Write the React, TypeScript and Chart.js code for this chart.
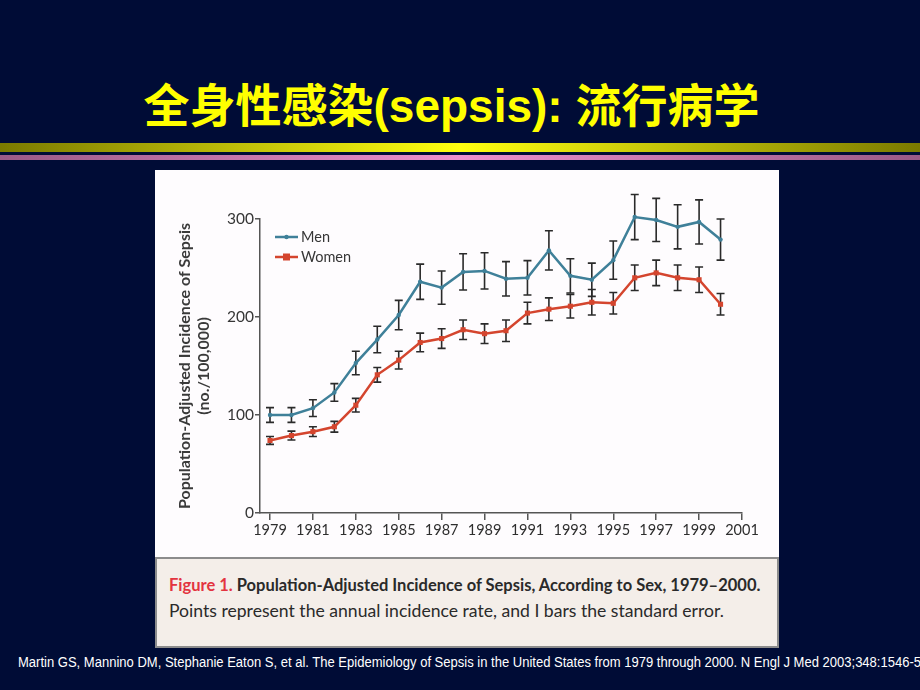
import React, { useEffect, useRef } from "react";
import { Chart, registerables } from "chart.js";

Chart.register(...registerables);

// ---- data ----
const years = [1979, 1980, 1981, 1982, 1983, 1984, 1985, 1986, 1987, 1988, 1989, 1990, 1991, 1992, 1993, 1994, 1995, 1996, 1997, 1998, 1999, 2000];
const men = [100, 100, 107, 123, 153, 177, 202, 236, 230, 246, 247, 239, 240, 268, 242, 238, 258, 302, 299, 292, 297, 279];
const menSE = [7.5, 7.5, 8.5, 9, 12, 13.5, 15, 18, 17, 18.5, 18.5, 17.5, 17.5, 20, 17.5, 17, 19.5, 23, 22, 22.5, 22.5, 21];
const women = [74, 79, 83, 88, 110, 141, 156, 174, 178, 187, 183, 186, 204, 208, 211, 215, 214, 240, 245, 240, 238, 213];
const womenSE = [4, 4.5, 5, 5.5, 7, 7.5, 9, 9.5, 10, 10, 10, 11, 11, 11.5, 12, 13, 11, 13, 13, 13, 13, 11];
const xTickValues = [1979, 1981, 1983, 1985, 1987, 1989, 1991, 1993, 1995, 1997, 1999, 2001];
const yTickValues = [0, 100, 200, 300];
const seriesLabels = ["Men", "Women"];
const yTitleLines = ["Population-Adjusted Incidence of Sepsis", "(no./100,000)"];

const MEN_COLOR = "#3f8099";
const WOMEN_COLOR = "#d4452e";
const TEXT_COLOR = "#363636";
const AXIS_COLOR = "#555555";

const errorBarPlugin = {
  id: "errorBars",
  beforeDatasetsDraw(chart: any) {
    const ctx = chart.ctx;
    const ys = chart.scales.y;
    ctx.save();
    ctx.strokeStyle = "#2a2a2a";
    ctx.lineWidth = 1.6;
    chart.data.datasets.forEach((ds: any, i: number) => {
      const meta = chart.getDatasetMeta(i);
      meta.data.forEach((pt: any, j: number) => {
        const v = ds.data[j].y;
        const se = ds.errors[j];
        const x = pt.x;
        const y1 = ys.getPixelForValue(v + se);
        const y2 = ys.getPixelForValue(v - se);
        ctx.beginPath();
        ctx.moveTo(x, y1);
        ctx.lineTo(x, y2);
        ctx.moveTo(x - 4, y1);
        ctx.lineTo(x + 4, y1);
        ctx.moveTo(x - 4, y2);
        ctx.lineTo(x + 4, y2);
        ctx.stroke();
      });
    });
    ctx.restore();
  },
};

const legendPlugin = {
  id: "insideLegend",
  afterDraw(chart: any) {
    const ctx = chart.ctx;
    const { left, top } = chart.chartArea;
    ctx.save();
    chart.data.datasets.forEach((ds: any, i: number) => {
      const y = top + 18 + i * 20;
      const x0 = left + 15;
      const x1 = left + 38;
      ctx.strokeStyle = ds.borderColor;
      ctx.lineWidth = 2.5;
      ctx.beginPath();
      ctx.moveTo(x0, y);
      ctx.lineTo(x1, y);
      ctx.stroke();
      ctx.fillStyle = ds.borderColor;
      const cx = (x0 + x1) / 2;
      if (ds.pointStyle === "rect") {
        ctx.fillRect(cx - 3.5, y - 3.5, 7, 7);
      } else {
        ctx.beginPath();
        ctx.arc(cx, y, 2.2, 0, Math.PI * 2);
        ctx.fill();
      }
      ctx.fillStyle = TEXT_COLOR;
      ctx.font = "14.5px Lato";
      ctx.textBaseline = "middle";
      ctx.textAlign = "left";
      ctx.fillText(ds.label, x1 + 3, y);
    });
    ctx.restore();
  },
};

function SepsisChart() {
  const ref = useRef<HTMLCanvasElement | null>(null);
  useEffect(() => {
    if (!ref.current) return;
    const chart = new Chart(ref.current, {
      type: "line",
      data: {
        datasets: [
          {
            label: seriesLabels[0],
            data: years.map((x, i) => ({ x, y: men[i] })),
            errors: menSE,
            borderColor: MEN_COLOR,
            backgroundColor: MEN_COLOR,
            borderWidth: 2.5,
            pointStyle: "circle",
            pointRadius: 2.2,
            pointBorderWidth: 0,
            pointBackgroundColor: MEN_COLOR,
            clip: false,
          } as any,
          {
            label: seriesLabels[1],
            data: years.map((x, i) => ({ x, y: women[i] })),
            errors: womenSE,
            borderColor: WOMEN_COLOR,
            backgroundColor: WOMEN_COLOR,
            borderWidth: 2.5,
            pointStyle: "rect",
            pointRadius: 3.6,
            pointBorderWidth: 0,
            pointBackgroundColor: WOMEN_COLOR,
            clip: false,
          } as any,
        ],
      },
      options: {
        responsive: false,
        animation: false,
        layout: { padding: { top: 49, right: 37, left: 0, bottom: 14 } },
        plugins: { legend: { display: false }, tooltip: { enabled: false } },
        scales: {
          x: {
            type: "linear",
            min: 1978.534,
            max: 2001,
            afterBuildTicks: (s: any) => {
              s.ticks = xTickValues.map((v) => ({ value: v }));
            },
            afterFit: (s: any) => {
              s.height = 30;
            },
            grid: { display: true, drawOnChartArea: false, drawTicks: true, tickLength: 7, color: AXIS_COLOR, lineWidth: 1.5 },
            border: { display: true, color: AXIS_COLOR, width: 1.5 },
            ticks: {
              font: { family: "Lato", size: 14.5 },
              color: "#2e2e2e",
              padding: 2,
              maxRotation: 0,
              autoSkip: false,
              callback: (v: any) => String(v),
            },
          },
          y: {
            type: "linear",
            min: 0,
            max: 300,
            afterBuildTicks: (s: any) => {
              s.ticks = yTickValues.map((v) => ({ value: v }));
            },
            afterFit: (s: any) => {
              s.width = 105;
            },
            grid: { display: true, drawOnChartArea: false, drawTicks: true, tickLength: 5, color: AXIS_COLOR, lineWidth: 1.5 },
            border: { display: true, color: AXIS_COLOR, width: 1.5 },
            ticks: {
              font: { family: "Lato", size: 15.5 },
              color: TEXT_COLOR,
              padding: 1,
              callback: (v: any) => String(v),
            },
            title: {
              display: true,
              text: yTitleLines,
              font: { family: "Lato", size: 16, weight: "bold", lineHeight: 1.15 },
              color: "#3a3a3a",
              padding: { top: 21, bottom: 0 },
            },
          },
        },
      },
      plugins: [errorBarPlugin, legendPlugin],
    } as any);
    return () => chart.destroy();
  }, []);
  return <canvas ref={ref} width={624} height={387} style={{ position: "absolute", left: 0, top: 0 }} />;
}

export default function App() {
  return (
    <div
      style={{
        position: "fixed",
        left: 0,
        top: 0,
        width: 920,
        height: 690,
        overflow: "hidden",
        background: "#000c36",
        fontFamily: "'Liberation Sans', Arial, sans-serif",
      }}
    >
      <div
        style={{
          position: "absolute",
          left: 0,
          top: 80,
          width: 903,
          textAlign: "center",
          fontSize: 46,
          lineHeight: "52px",
          fontWeight: "bold",
          color: "#ffff00",
          fontFamily: "'Liberation Sans', 'Noto Sans CJK SC', sans-serif",
          whiteSpace: "nowrap",
        }}
      >
        全身性感染(sepsis): 流行病学
      </div>
      <div
        style={{
          position: "absolute",
          left: 0,
          top: 143,
          width: 920,
          height: 9,
          background: "linear-gradient(to right, #7a7a00, #ffff10 50%, #7a7a00)",
        }}
      />
      <div
        style={{
          position: "absolute",
          left: 0,
          top: 155,
          width: 920,
          height: 5,
          background: "linear-gradient(to right, #9a5a86, #ee90cc 50%, #9a5a86)",
        }}
      />
      <div
        style={{
          position: "absolute",
          left: 155,
          top: 170,
          width: 624,
          height: 478,
          background: "#fefcfe",
        }}
      >
        <SepsisChart />
        <div
          style={{
            position: "absolute",
            left: 0,
            top: 387,
            width: 620,
            height: 87,
            background: "#f4eee9",
            border: "2px solid #8c8c8c",
            fontFamily: "Lato, sans-serif",
            color: "#2a2a2a",
          }}
        >
          <div style={{ position: "absolute", left: 12, top: 16, whiteSpace: "nowrap", lineHeight: "20px", fontSize: 16.5 }}>
            <span style={{ color: "#e3343f", fontWeight: "bold" }}>Figure 1. </span>
            <span style={{ fontWeight: "bold" }}>Population-Adjusted Incidence of Sepsis, According to Sex, 1979–2000.</span>
          </div>
          <div style={{ position: "absolute", left: 12, top: 42, whiteSpace: "nowrap", lineHeight: "20px", fontSize: 17.6 }}>
            Points represent the annual incidence rate, and I bars the standard error.
          </div>
        </div>
      </div>
      <div
        style={{
          position: "absolute",
          left: 18,
          top: 654,
          whiteSpace: "nowrap",
          fontSize: 14,
          lineHeight: "16px",
          color: "#ffffff",
          transform: "scaleX(0.93)",
          transformOrigin: "left center",
        }}
      >
        Martin GS, Mannino DM, Stephanie Eaton S, et al. The Epidemiology of Sepsis in the United States from 1979 through 2000. N Engl J Med 2003;348:1546-54.
      </div>
    </div>
  );
}
